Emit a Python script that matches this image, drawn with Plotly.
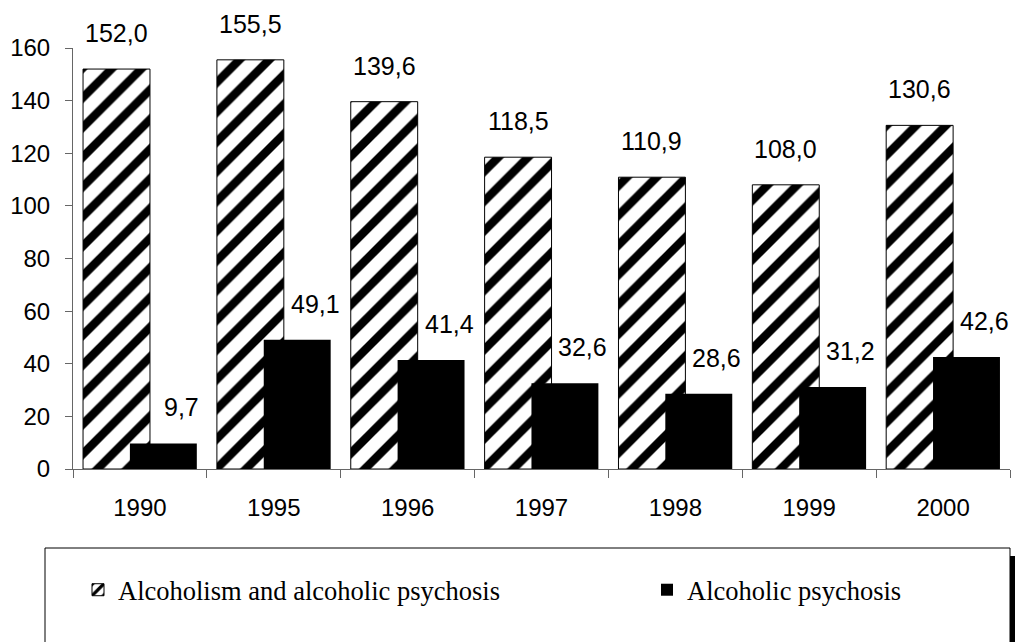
import plotly.graph_objects as go

years = ['1990', '1995', '1996', '1997', '1998', '1999', '2000']
alcoholism = [152.0, 155.5, 139.6, 118.5, 110.9, 108.0, 130.6]
psychosis = [9.7, 49.1, 41.4, 32.6, 28.6, 31.2, 42.6]
y_ticks = [0, 20, 40, 60, 80, 100, 120, 140, 160]

W, H = 1015, 642
L, R, T, B = 73, 5, 48, 173
PW, PH = W - L - R, H - T - B


def px_x(px):
    return (px - L) / PW


def px_y(py):
    return (H - B - py) / PH


def fmt(v):
    return f"{v:.1f}".replace('.', ',')


sans = "Arial, Liberation Sans, sans-serif"
serif = "Times New Roman, Liberation Serif, serif"

fig = go.Figure()
fig.add_trace(go.Bar(
    x=years, y=alcoholism, name="Alcoholism and alcoholic psychosis",
    width=0.5, offset=-0.425,
    marker=dict(color="white", line=dict(color="black", width=1),
                pattern=dict(shape="/", fgcolor="black", bgcolor="white",
                             fgopacity=1, size=21, solidity=0.4, fillmode="replace")),
    legend="legend", hoverinfo="skip",
))
fig.add_trace(go.Bar(
    x=years, y=psychosis, name="Alcoholic psychosis",
    width=0.5, offset=-0.075,
    marker=dict(color="black", line=dict(color="black", width=0)),
    legend="legend2", hoverinfo="skip",
))

annotations = []
for i, v in enumerate(alcoholism):
    annotations.append(dict(x=i - 0.175, y=v, xref="x", yref="y", text=fmt(v),
                            showarrow=False, yanchor="middle", yshift=36,
                            font=dict(family=sans, size=25, color="black")))
for i, v in enumerate(psychosis):
    annotations.append(dict(x=i + 0.175, y=v, xref="x", yref="y", text=fmt(v),
                            showarrow=False, yanchor="middle", yshift=36, xshift=18,
                            font=dict(family=sans, size=25, color="black")))

shapes = [
    dict(type="rect", xref="paper", yref="paper",
         x0=px_x(45), x1=px_x(1010), y0=px_y(548), y1=px_y(670),
         line=dict(color="black", width=1), fillcolor="rgba(0,0,0,0)", layer="below"),
    dict(type="rect", xref="paper", yref="paper",
         x0=px_x(1010), x1=px_x(1017), y0=px_y(556), y1=px_y(670),
         line=dict(width=0), fillcolor="black"),
]

fig.update_layout(
    width=W, height=H,
    margin=dict(l=L, r=R, t=T, b=B),
    paper_bgcolor="white", plot_bgcolor="white",
    barmode="overlay",
    showlegend=True,
    legend=dict(x=px_x(78), y=px_y(590), xanchor="left", yanchor="middle",
                xref="paper", yref="paper", bgcolor="rgba(0,0,0,0)",
                font=dict(family=serif, size=26.5, color="black")),
    legend2=dict(x=px_x(647), y=px_y(590), xanchor="left", yanchor="middle",
                 xref="paper", yref="paper", bgcolor="rgba(0,0,0,0)",
                 font=dict(family=serif, size=26.5, color="black")),
    xaxis=dict(type="category", range=[-0.5, 6.5], showline=True, linecolor="#666666",
               linewidth=1, ticks="outside", tickson="boundaries", ticklen=8,
               tickcolor="#666666", showgrid=False, zeroline=False,
               tickfont=dict(family=sans, size=24, color="black"),
               ticklabelstandoff=17),
    yaxis=dict(range=[0, 160], tickvals=y_ticks, showline=True, linecolor="#666666",
               linewidth=1, ticks="outside", ticklen=7, tickcolor="#666666",
               showgrid=False, zeroline=False,
               tickfont=dict(family=sans, size=24, color="black"),
               ticklabelstandoff=10),
    annotations=annotations,
    shapes=shapes,
)

fig.write_html("out.html", config={"displayModeBar": False},
               post_script="document.body.style.margin='0';")
